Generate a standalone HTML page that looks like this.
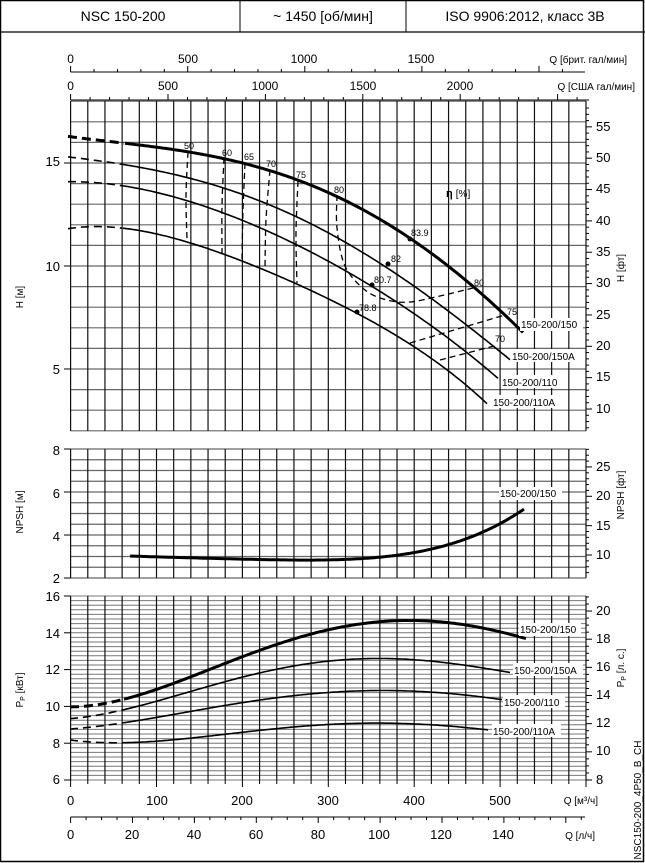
<!DOCTYPE html>
<html><head><meta charset="utf-8"><style>
html,body{margin:0;padding:0;background:#fff}
svg{display:block}
text{font-family:"Liberation Sans",Arial,sans-serif;fill:#000}
</style></head><body>
<svg id="s" width="645" height="863" viewBox="0 0 645 863" xmlns="http://www.w3.org/2000/svg">
<rect x="0.5" y="0.5" width="643" height="861" fill="#fff" stroke="#000" stroke-width="1.5"/>
<line x1="0" y1="32" x2="645" y2="32" stroke="#000" stroke-width="1.2"/>
<line x1="240" y1="0" x2="240" y2="32" stroke="#000"/>
<line x1="406" y1="0" x2="406" y2="32" stroke="#000"/>
<text x="123" y="21" font-size="14" text-anchor="middle">NSC 150-200</text>
<text x="323" y="21" font-size="14" text-anchor="middle">~ 1450 [об/мин]</text>
<text x="525" y="21" font-size="14" text-anchor="middle">ISO 9906:2012, класс 3B</text>
<g id="grid"></g>
<g font-size="12" text-anchor="middle">
<text x="70.6" y="63">0</text><text x="188" y="63">500</text><text x="304" y="63">1000</text><text x="421" y="63">1500</text>
<text x="70.6" y="90">0</text><text x="168" y="90">500</text><text x="265" y="90">1000</text><text x="363" y="90">1500</text><text x="460" y="90">2000</text>
</g>
<text x="627" y="63" font-size="10" text-anchor="end">Q [брит. гал/мин]</text>
<text x="635" y="90" font-size="10" text-anchor="end">Q [США гал/мин]</text>
<g font-size="13" text-anchor="end">
<text x="60" y="166">15</text><text x="60" y="271">10</text><text x="60" y="374">5</text>
<text x="60" y="455">8</text><text x="60" y="498">6</text><text x="60" y="541">4</text><text x="60" y="583">2</text>
<text x="60" y="601">16</text><text x="60" y="638">14</text><text x="60" y="674">12</text><text x="60" y="711">10</text><text x="60" y="748">8</text><text x="60" y="784">6</text>
</g>
<g font-size="13">
<text x="596" y="131">55</text><text x="596" y="162">50</text><text x="596" y="193">45</text><text x="596" y="225">40</text><text x="596" y="256">35</text><text x="596" y="287">30</text><text x="596" y="319">25</text><text x="596" y="350">20</text><text x="596" y="381">15</text><text x="596" y="413">10</text>
<text x="596" y="471">25</text><text x="596" y="500">20</text><text x="596" y="530">15</text><text x="596" y="559">10</text>
<text x="596" y="615">20</text><text x="596" y="643">18</text><text x="596" y="671">16</text><text x="596" y="699">14</text><text x="596" y="727">12</text><text x="596" y="755">10</text><text x="596" y="784">8</text>
</g>
<g font-size="13" text-anchor="middle">
<text x="70.6" y="805">0</text><text x="157" y="805">100</text><text x="242" y="805">200</text><text x="328" y="805">300</text><text x="414" y="805">400</text><text x="500" y="805">500</text>
<text x="70.6" y="839">0</text><text x="132" y="839">20</text><text x="194" y="839">40</text><text x="256" y="839">60</text><text x="318" y="839">80</text><text x="379" y="839">100</text><text x="441" y="839">120</text><text x="503" y="839">140</text>
</g>
<text x="598" y="804" font-size="10" text-anchor="end">Q [м³/ч]</text>
<text x="595" y="839" font-size="10" text-anchor="end">Q [л/ч]</text>
<g font-size="10" text-anchor="middle">
<text transform="translate(23,297) rotate(-90)">H [м]</text>
<text transform="translate(23,512) rotate(-90)">NPSH [м]</text>
<text transform="translate(23,690) rotate(-90)">P<tspan font-size="7" dy="2">P</tspan><tspan dy="-2"> [кВт]</tspan></text>
<text transform="translate(624,268) rotate(-90)">H [фт]</text>
<text transform="translate(624,495) rotate(-90)">NPSH [фт]</text>
<text transform="translate(624,668) rotate(-90)">P<tspan font-size="7" dy="2">P</tspan><tspan dy="-2"> [л. с.]</tspan></text>
<text transform="translate(641,800) rotate(-90)">NSC150-200_4P50_B_CH</text>
</g>
<g id="curves" fill="none" stroke="#000"></g>
<g fill="#000"><circle cx="410" cy="239" r="2.5"/><circle cx="388" cy="264" r="2.5"/><circle cx="372" cy="285" r="2.5"/><circle cx="357" cy="312" r="2.5"/></g>
<g font-size="9">
<text x="184" y="149">50</text><text x="222" y="156">60</text><text x="244" y="160">65</text><text x="266" y="167">70</text><text x="296" y="178">75</text><text x="334" y="193">80</text>
<text x="411" y="236">83.9</text><text x="391" y="262">82</text><text x="374" y="283">80.7</text><text x="359" y="311">78.8</text>
<text x="474" y="286">80</text><text x="507" y="315">75</text><text x="495" y="342">70</text>
</g>
<text x="446" y="197" font-size="11" font-weight="bold">η <tspan font-weight="normal" font-size="10">[%]</tspan></text>
<g id="labels" font-size="10">
<rect x="520" y="318" width="63" height="13" fill="#fff"/><text x="521" y="328">150-200/150</text>
<rect x="511" y="349" width="70" height="13" fill="#fff"/><text x="512" y="360">150-200/150A</text>
<rect x="501" y="375" width="62" height="13" fill="#fff"/><text x="502" y="386">150-200/110</text>
<rect x="492" y="395" width="69" height="13" fill="#fff"/><text x="493" y="406">150-200/110A</text>
<rect x="499" y="487" width="63" height="13" fill="#fff"/><text x="500" y="497">150-200/150</text>
<rect x="519" y="623" width="62" height="13" fill="#fff"/><text x="520" y="633">150-200/150</text>
<rect x="513" y="663" width="70" height="13" fill="#fff"/><text x="514" y="674">150-200/150A</text>
<rect x="503" y="695" width="62" height="13" fill="#fff"/><text x="504" y="706">150-200/110</text>
<rect x="492" y="724" width="69" height="13" fill="#fff"/><text x="493" y="735">150-200/110A</text>
</g>
</svg>
<script>
(function(){
var g=document.getElementById('grid'),NS='http://www.w3.org/2000/svg';
function L(x1,y1,x2,y2,c,w){var l=document.createElementNS(NS,'line');l.setAttribute('x1',x1);l.setAttribute('y1',y1);l.setAttribute('x2',x2);l.setAttribute('y2',y2);l.setAttribute('stroke',c||'#000');l.setAttribute('stroke-width',w||1);g.appendChild(l);}
var X0=70.6,XR=586,k=(XR-X0)/600;
var panels=[[101,431],[449,578],[596,780]];
for(var m=2;m<=18;m++){var y=266-(m-10)*20.6;L(X0,y,XR,y,'#666',1.2);}
for(var m=2;m<=8.001;m+=0.5){var y=578-(m-2)*21.5;L(X0,y,XR,y,'#666',1.2);}
for(var p=6;p<=16.001;p+=0.25){var y=780-(p-6)*18.4;L(X0,y,XR,y,'#777',1);}
panels.forEach(function(pn){for(var q=0;q<=600;q+=20){var x=X0+q*k;L(x,pn[0],x,pn[1],'#111',1.2);}});
[5,10,15].forEach(function(m){var y=266-(m-10)*20.6;L(64,y,X0,y);});
[2,4,6,8].forEach(function(m){var y=578-(m-2)*21.5;L(64,y,X0,y);});
[6,8,10,12,14,16].forEach(function(p){var y=780-(p-6)*18.4;L(64,y,X0,y);});
for(var f=6;f<=58;f++){var y=409-(f-10)*6.27;if(y<101||y>431)continue;L(XR,y,XR+(f%5?3:6),y);}
for(var f=6;f<=28;f++){var y=555-(f-10)*5.87;if(y<449||y>578)continue;L(XR,y,XR+(f%5?3:6),y);}
for(var h=8;h<=21;h+=0.5){var y=780-(h-8)*14.08;if(y<596)continue;L(XR,y,XR+(h%2?3:6),y);}
L(X0,72,585,72);for(var b=0;b<=2100;b+=100){var x=X0+b*0.2342;if(x>586)break;L(x,72,x,b%500?69:66);}
L(X0,100,589,100);for(var u=0;u<=2600;u+=100){var x=X0+u*0.1948;if(x>589)break;L(x,100,x,u%500?97:94);}
for(var q=0;q<=600;q+=20){var x=X0+q*k;L(x,780,x,q%100?784:787);}
L(X0,817,585,817);for(var s=0;s<=165;s+=5){var x=X0+s*3.095;if(x>586)break;L(x,817,x,s%20?820:823);}

var cg=document.getElementById('curves');
function mk(d,w,dash){var e=document.createElementNS(NS,'path');e.setAttribute('d',d);e.setAttribute('stroke-width',w);if(dash)e.setAttribute('stroke-dasharray',dash);cg.appendChild(e);}
function CR(p){var d='M'+p[0][0]+','+p[0][1];for(var i=0;i<p.length-1;i++){var p0=p[i-1]||p[i],p1=p[i],p2=p[i+1],p3=p[i+2]||p2;
d+=' C'+(p1[0]+(p2[0]-p0[0])/6).toFixed(1)+','+(p1[1]+(p2[1]-p0[1])/6).toFixed(1)+' '+(p2[0]-(p3[0]-p1[0])/6).toFixed(1)+','+(p2[1]-(p3[1]-p1[1])/6).toFixed(1)+' '+p2[0]+','+p2[1];}return d;}
function P(pts,w,dash){mk(CR(pts),w,dash);}
function fit(pts,deg){var n=deg+1,A=[],B=[];for(var i=0;i<n;i++){A.push(new Array(n).fill(0));B.push(0);}
pts.forEach(function(p){var t=(p[0]-300)/200;for(var i=0;i<n;i++){B[i]+=p[1]*Math.pow(t,i);for(var j=0;j<n;j++)A[i][j]+=Math.pow(t,i+j);}});
for(var c=0;c<n;c++){var piv=c;for(var r=c+1;r<n;r++)if(Math.abs(A[r][c])>Math.abs(A[piv][c]))piv=r;var tmp=A[c];A[c]=A[piv];A[piv]=tmp;var tb=B[c];B[c]=B[piv];B[piv]=tb;
for(var r=0;r<n;r++){if(r==c)continue;var f=A[r][c]/A[c][c];for(var j=c;j<n;j++)A[r][j]-=f*A[c][j];B[r]-=f*B[c];}}
var co=B.map(function(b,i){return b/A[i][i];});
return function(x){var t=(x-300)/200,s=0;for(var i=0;i<n;i++)s+=co[i]*Math.pow(t,i);return s;};}
function F(pts,deg,xd,xs,xe,w,dash){var f=fit(pts,deg);function seg(a,b,dsh){var d='';for(var x=a;x<=b+0.01;x+=2){var xx=Math.min(x,b);d+=(d?' L':'M')+xx.toFixed(1)+','+f(xx).toFixed(1);}mk(d,w,dsh);}
if(xd!==null)seg(xd,xs,dash);seg(xs,xe,null);}
// H curves
F([[68,136],[96,140],[125,144],[188,152],[223,158],[245,163],[270,170],[298,181],[337,197],[360,208],[410,239],[440,260],[473,285],[523,333]],4,68,125,523,3,'9,5');
F([[68,158],[95,160],[122,162],[160,172],[223,187],[260,203],[300,222],[330,234],[360,247],[388,264],[420,290],[450,317],[480,338],[510,357]],4,68,122,510,1.6,'8,5');
F([[68,182],[95,183],[122,184],[180,200],[242,220],[293,243],[330,263],[347,271],[372,285],[405,308],[440,333],[470,355],[498,378]],4,68,122,498,1.6,'8,5');
F([[68,229],[87,227],[123,227],[187,242],[242,263],[297,283],[330,300],[357,312],[390,331],[417,350],[450,373],[487,403]],4,68,123,487,1.6,'8,5');
var D='6,4';
P([[188,152],[186,195],[187,239]],1.3,D);
P([[224,158],[222,205],[222,253]],1.3,D);
P([[245,163],[243,210],[242,259]],1.3,D);
P([[270,170],[266,220],[265,268]],1.3,D);
P([[298,181],[296,232],[297,283]],1.3,D);
P([[337,195],[337,228],[345,266],[365,290],[387,300],[410,302],[440,296],[473,288]],1.3,D);
P([[410,343],[505,315]],1.3,D);
P([[440,360],[498,345]],1.3,D);
// NPSH
F([[130,556],[200,558],[280,560],[350,559],[400,555],[440,547],[470,537],[500,524],[524,509]],4,null,130,524,3);
// Power
F([[70,707],[97,704],[124,700],[157,690],[200,672],[242,657],[285,642],[326,630],[370,623],[413,621],[445,622],[475,626],[500,632],[527,639]],4,70,124,527,3,'9,5');
F([[70,718],[97,715],[124,712],[165,698],[205,686],[242,677],[285,668],[326,662],[384,659],[434,661],[475,666],[510,673]],4,70,124,510,1.6,'8,5');
F([[70,729],[97,726],[124,723],[165,717],[205,708],[242,702],[285,697],[326,693],[388,691],[434,692],[470,695],[502,700]],4,70,124,502,1.6,'8,5');
F([[70,740],[97,742],[124,743],[165,741],[205,736],[242,732],[285,728],[326,725],[388,723],[434,725],[462,727],[488,730]],4,70,124,488,1.6,'8,5');
var lb=document.getElementById('labels');lb.parentNode.appendChild(lb);
})();
</script>
</body></html>
